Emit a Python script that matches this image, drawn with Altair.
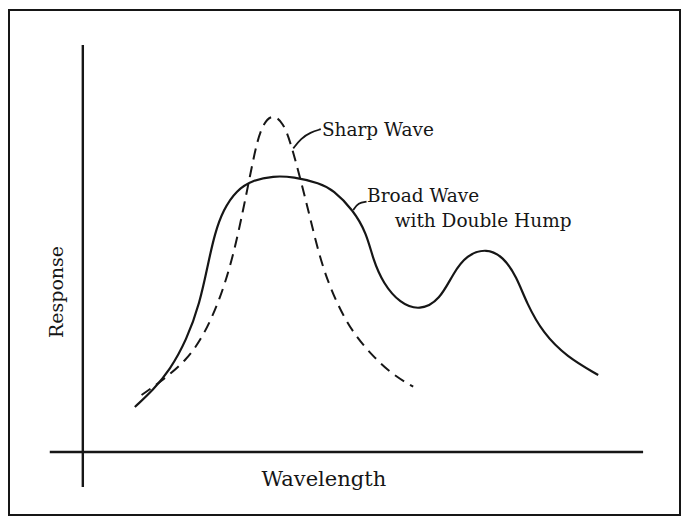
import altair as alt
import pandas as pd

# Broad wave with a double hump (solid curve)
broad_x = [9.44, 12.76, 15.80, 18.83, 21.24, 22.75, 23.97, 25.47, 27.90, 30.92, 34.55,
           38.18, 43.03, 45.44, 49.07, 51.51, 52.71, 54.52, 57.55, 61.18, 64.81, 67.23,
           69.66, 73.29, 76.31, 78.74, 80.56, 83.57, 87.82, 93.55]
broad_y = [11.25, 15.5, 20.5, 28.0, 37.18, 47.18, 54.68, 60.5, 65.5, 68.0, 69.0,
           68.83, 67.18, 65.5, 60.5, 54.68, 48.0, 42.18, 37.18, 35.33, 38.0, 44.68,
           49.25, 50.93, 48.83, 43.83, 37.18, 29.68, 23.83, 19.25]

# Sharp wave (dashed curve)
sharp_x = [10.66, 14.58, 18.83, 21.84, 24.87, 27.29, 29.10, 30.32, 31.54, 32.73, 34.55,
           36.37, 37.58, 39.40, 41.21, 43.33, 46.06, 49.07, 52.71, 56.34, 59.97]
sharp_y = [14.25, 18.0, 23.0, 28.83, 38.0, 48.83, 60.5, 68.83, 77.18, 82.18, 84.6,
           82.18, 78.0, 68.83, 58.83, 46.75, 37.18, 29.68, 23.83, 19.25, 16.33]

# Leader strokes from the labels to the curves
lead_sharp_x = [38.2, 39.6, 41.3, 43.2]
lead_sharp_y = [75.9, 78.4, 79.9, 80.7]
lead_broad_x = [49.1, 50.0, 51.5]
lead_broad_y = [60.5, 62.3, 62.6]

# Axis extents (origin at 0, 0)
x_axis_span = [-6.0, 101.7]
y_axis_span = [-8.75, 101.75]

labels = ["Sharp Wave", "Broad Wave", "with Double Hump"]
label_x = [43.4, 51.6, 56.6]
label_y = [80.5, 64.0, 57.75]

X_DOMAIN = [-13.4, 108.4]
Y_DOMAIN = [-15.75, 110.5]
INK = "#161616"
FONT = "DejaVu Serif"

xs = alt.Scale(domain=X_DOMAIN, nice=False, zero=False)
ys = alt.Scale(domain=Y_DOMAIN, nice=False, zero=False)
X = lambda f: alt.X(f, type="quantitative", scale=xs, axis=None)
Y = lambda f: alt.Y(f, type="quantitative", scale=ys, axis=None)

broad = pd.DataFrame({"x": broad_x, "y": broad_y})
sharp = pd.DataFrame({"x": sharp_x, "y": sharp_y})
lead1 = pd.DataFrame({"x": lead_sharp_x, "y": lead_sharp_y})
lead2 = pd.DataFrame({"x": lead_broad_x, "y": lead_broad_y})

broad_line = alt.Chart(broad).mark_line(
    color=INK, strokeWidth=2.2, interpolate="basis"
).encode(x=X("x"), y=Y("y"), order="x:Q")

sharp_line = alt.Chart(sharp).mark_line(
    color=INK, strokeWidth=2.0, interpolate="basis", strokeDash=[11, 7]
).encode(x=X("x"), y=Y("y"), order="x:Q")

lead_a = alt.Chart(lead1).mark_line(color=INK, strokeWidth=1.8, interpolate="basis").encode(
    x=X("x"), y=Y("y"))
lead_b = alt.Chart(lead2).mark_line(color=INK, strokeWidth=1.8, interpolate="basis").encode(
    x=X("x"), y=Y("y"))

x_axis = alt.Chart(pd.DataFrame({"x": [x_axis_span[0]], "x2": [x_axis_span[1]], "y": [0]})).mark_rule(
    color=INK, strokeWidth=2.4
).encode(x=X("x"), x2="x2", y=Y("y"))

y_axis = alt.Chart(pd.DataFrame({"y": [y_axis_span[0]], "y2": [y_axis_span[1]], "x": [0]})).mark_rule(
    color=INK, strokeWidth=2.4
).encode(y=Y("y"), y2="y2", x=X("x"))

notes = alt.Chart(pd.DataFrame({"t": labels, "x": label_x, "y": label_y})).mark_text(
    align="left", baseline="middle", font=FONT, fontSize=18.5, color=INK
).encode(x=X("x"), y=Y("y"), text="t")

x_title = alt.Chart(pd.DataFrame({"t": ["Wavelength"], "x": [43.75], "y": [-7.0]})).mark_text(
    align="center", baseline="middle", font=FONT, fontSize=21, color=INK
).encode(x=X("x"), y=Y("y"), text="t")

y_title = alt.Chart(pd.DataFrame({"t": ["Response"], "x": [-4.7], "y": [40.0]})).mark_text(
    align="center", baseline="middle", font=FONT, fontSize=19, color=INK, angle=270
).encode(x=X("x"), y=Y("y"), text="t")

chart = alt.layer(
    x_axis, y_axis, broad_line, sharp_line, lead_a, lead_b, notes, x_title, y_title
).properties(
    width=671, height=505,
    padding={"left": 9, "top": 10, "right": 3, "bottom": 7},
    autosize=alt.AutoSizeParams(type="none"),
    background="white",
).configure_view(stroke=INK, strokeWidth=2)

chart.save("out.html", embed_options={"renderer": "svg", "actions": False})
